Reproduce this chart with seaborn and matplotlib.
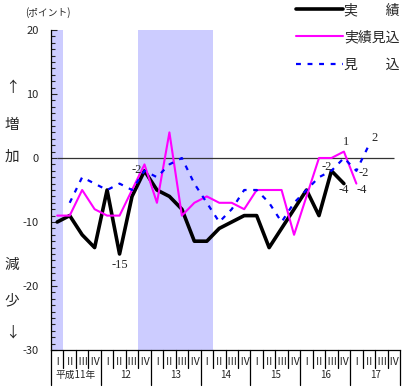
import matplotlib
matplotlib.use("Agg")
import matplotlib.pyplot as plt
import numpy as np
import pandas as pd
import seaborn as sns

# quarters: 平成11年 I ... 平成17年 IV
quarters = ["Ⅰ", "Ⅱ", "Ⅲ", "Ⅳ"] * 7
years = ["平成11年", "12", "13", "14", "15", "16", "17"]

actual = [-10, -9, -12, -14, -5, -15, -6, -2, -5, -6, -8, -13, -13, -11,
          -10, -9, -9, -14, -11, -8, -5, -9, -2, -4]
estimate = [-9, -9, -5, -8, -9, -9, -5, -1, -7, 4, -9, -7, -6, -7, -7, -8,
            -5, -5, -5, -12, -6, 0, 0, 1, -4]
forecast = [np.nan, -7, -3, -4, -5, -4, -5, -2, -3, -1, 0, -4, -7, -10, -8,
            -5, -5, -7, -10, -7, -5, -3, -2, 0, -2, 2]

# shaded quarters (start, end index)
shaded = [(0, 0), (7, 12)]

sns.set_style("white")
plt.rcParams["font.family"] = ["Noto Sans CJK JP", "DejaVu Sans"]
plt.rcParams["axes.unicode_minus"] = False

fig = plt.figure(figsize=(4.05, 3.87), dpi=100)
ax = fig.add_axes([51 / 405, 37 / 387, 349 / 405, 320 / 387])

df_a = pd.DataFrame({"q": range(len(actual)), "v": actual})
df_e = pd.DataFrame({"q": range(len(estimate)), "v": estimate})
df_f = pd.DataFrame({"q": range(len(forecast)), "v": forecast}).dropna()

for s, e in shaded:
    ax.axvspan(s - 0.5, e + 0.5, color="#ccccff", lw=0, zorder=0)
ax.hlines(0, 0, 27, color="#333333", lw=0.9, zorder=1)

sns.lineplot(data=df_a, x="q", y="v", ax=ax, color="black", lw=2.6,
             label="実　　績", zorder=3)
sns.lineplot(data=df_e, x="q", y="v", ax=ax, color="#ff00ff", lw=1.5,
             label="実績見込", zorder=4)
sns.lineplot(data=df_f, x="q", y="v", ax=ax, color="#0000ff", lw=1.6,
             linestyle=(0, (2.2, 3.0)), label="見　　込", zorder=5)

ax.set_xlim(-0.5, 27.5)
ax.set_ylim(-30, 20)
ax.set_xlabel("")
ax.set_ylabel("")
ax.set_xticks([])
ax.set_yticks(range(-30, 21, 10))
ax.set_yticks(range(-30, 21, 1), minor=True)
ax.tick_params(axis="y", which="major", direction="in", length=4, width=0.8,
               labelsize=8, pad=9, left=True)
ax.tick_params(axis="y", which="minor", direction="in", length=3, width=0.8,
               left=True)
for side in ["top", "right"]:
    ax.spines[side].set_visible(False)
for side in ["left", "bottom"]:
    ax.spines[side].set_color("black")
    ax.spines[side].set_linewidth(0.9)

# value labels
lab = dict(textcoords="offset pixels", ha="center", va="center",
           fontsize=9, family="Liberation Serif", zorder=6)
ax.annotate("-15", (5, actual[5]), xytext=(0, -11), **lab)
ax.annotate("-2", (7, actual[7]), xytext=(-8, 1), **lab)
ax.annotate("-2", (22, actual[22]), xytext=(-5, 4), **lab)
ax.annotate("-4", (23, actual[23]), xytext=(0, -6), **lab)
ax.annotate("1", (23, estimate[23]), xytext=(2, 10), **lab)
ax.annotate("-4", (24, estimate[24]), xytext=(5, -6), **lab)
ax.annotate("-2", (24, forecast[24]), xytext=(7, -2), **lab)
ax.annotate("2", (25, forecast[25]), xytext=(6, 7), **lab)

# quarter / year table below the axis
tr = ax.get_xaxis_transform()
for i, q in enumerate(quarters):
    ax.text(i, -0.036, q, transform=tr, ha="center", va="center", fontsize=7.5)
for k, y in enumerate(years):
    ax.text(4 * k + 1.5, -0.077, y, transform=tr, ha="center", va="center",
            fontsize=7)
for k in range(29):
    low = -0.11 if k % 4 == 0 else -0.055
    ax.plot([k - 0.5, k - 0.5], [0, low], transform=tr, color="black", lw=0.9,
            clip_on=False)

# side labels
fig.text(25 / 405, 1 - 13 / 387, "(ポイント)", fontsize=7, va="center")
for y, t in [(88, "↑"), (125, "増"), (157, "加"), (265, "減"), (300, "少"),
             (333, "↓")]:
    fig.text(12 / 405, 1 - y / 387, t, fontsize=10.5, ha="center", va="center")

ax.legend(loc="upper right", bbox_to_anchor=(400 / 405, 1 - 3 / 387),
          bbox_transform=fig.transFigure, frameon=False, fontsize=10,
          handlelength=3.4, handletextpad=0.1, labelspacing=0.95,
          borderpad=0, borderaxespad=0)

fig.savefig("out.png", dpi=100)
